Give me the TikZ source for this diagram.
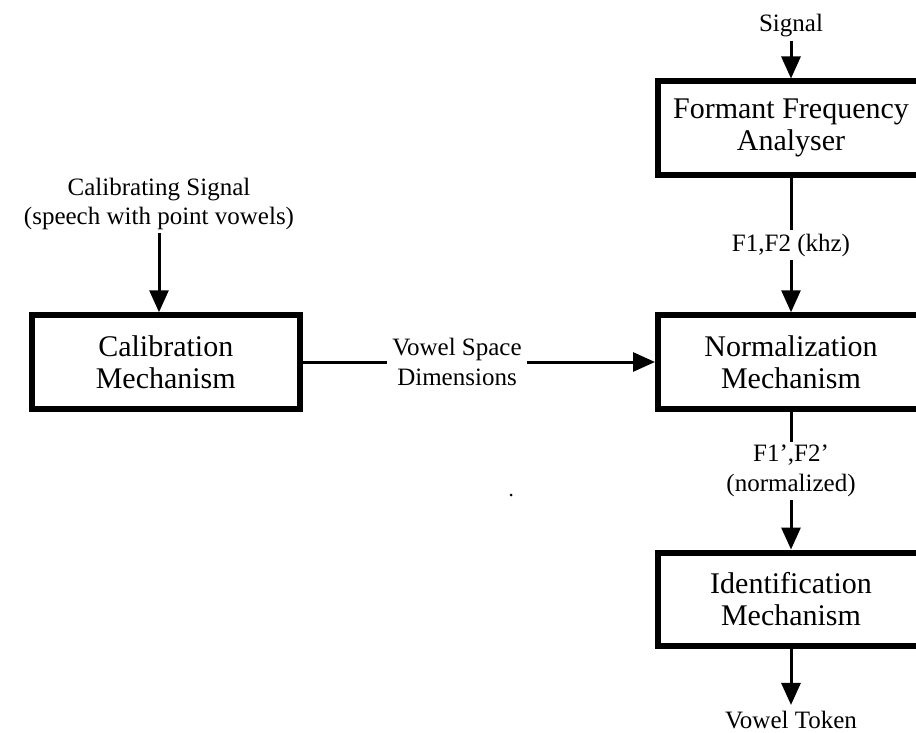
\documentclass[tikz,border=0pt]{standalone}
\usepackage{fontspec}
\setmainfont{Liberation Serif}
\usetikzlibrary{arrows.meta}
\begin{document}
\begin{tikzpicture}[x=1pt,y=-1pt,
  block/.style={draw,line width=6pt,minimum width=268pt,minimum height=93.5pt,
    inner sep=0pt,align=center,font=\fontsize{30}{32}\selectfont},
  lbl/.style={inner xsep=5pt,inner ysep=3pt,align=center,
    font=\fontsize{25}{29.5}\selectfont},
  link/.style={line width=3pt},
  flow/.style={link,-{Triangle[length=22pt,width=19pt]}}]

% page frame
\useasboundingbox (0,0) rectangle (916,733);
\fill[white] (0,0) rectangle (916,733);
\clip (0,0) rectangle (916,733);

% main processing column
\node[lbl] (sig) at (791,26) {Signal};
\node[block,minimum width=266pt] (formant) at (791,128.25) {Formant Frequency\\Analyser};
\node[lbl] (f12) at (791,245) {F1,F2 (khz)};
\node[block,minimum width=266pt] (norm) at (791,362) {Normalization\\Mechanism};
\node[lbl] (f12n) at (791,471) {F1',F2'\\(normalized)};
\node[block,minimum width=266pt,minimum height=93pt] (ident) at (791,599) {Identification\\Mechanism};
\node[lbl,inner ysep=1pt] (token) at (791,720) {Vowel Token};

% calibration branch
\node[lbl] (calsig) at (159,204) {Calibrating Signal\\(speech with point vowels)};
\node[block] (calib) at (165.75,362) {Calibration\\Mechanism};
\node[lbl] (vsd) at (457,362) {Vowel Space\\Dimensions};

% connectors
\draw[flow] (sig) -- (formant);
\draw[link] (formant) -- (f12);
\draw[flow] (f12) -- (norm);
\draw[link] (norm) -- (f12n);
\draw[flow] (f12n) -- (ident);
\draw[flow,shorten >=5pt] (ident) -- (token);
\draw[flow] (calsig) -- (calsig |- calib.north);
\draw[link] (calib) -- (vsd);
\draw[flow] (vsd) -- (norm);

% small stray mark
\fill (511,495) circle (1.5pt);
\end{tikzpicture}
\end{document}
